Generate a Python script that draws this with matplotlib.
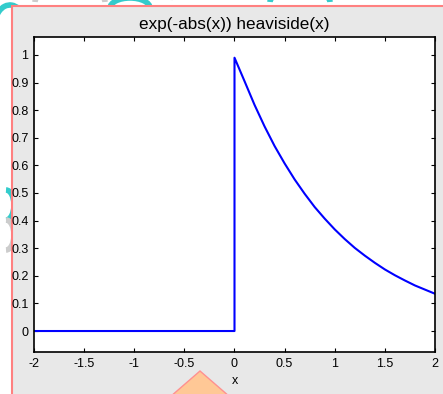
import matplotlib
matplotlib.use("Agg")
import matplotlib.pyplot as plt
from matplotlib.patches import Rectangle, Polygon, Arc

plt.rcParams['font.family'] = ['Liberation Sans', 'DejaVu Sans']

# curve (0 for x < 0, decaying for x > 0)
x_vals = [-2.0, 0.0, 0.0, 0.1, 0.2, 0.3, 0.4, 0.5, 0.6, 0.7, 0.8, 0.9, 1.0,
          1.1, 1.2, 1.3, 1.4, 1.5, 1.6, 1.7, 1.8, 1.9, 2.0]
y_vals = [0.0, 0.0, 0.99, 0.905, 0.819, 0.741, 0.670, 0.607, 0.549, 0.497,
          0.449, 0.407, 0.368, 0.333, 0.301, 0.273, 0.247, 0.223, 0.202,
          0.183, 0.165, 0.150, 0.135]
xticks = [-2, -1.5, -1, -0.5, 0, 0.5, 1, 1.5, 2]
xtick_labels = ['-2', '-1.5', '-1', '-0.5', '0', '0.5', '1', '1.5', '2']
yticks = [0, 0.1, 0.2, 0.3, 0.4, 0.5, 0.6, 0.7, 0.8, 0.9, 1]
ytick_labels = ['0', '0.1', '0.2', '0.3', '0.4', '0.5', '0.6', '0.7', '0.8', '0.9', '1']

W, H = 443, 394
fig = plt.figure(figsize=(W / 100, H / 100), dpi=100, facecolor='white')

# background decoration: swirls, gray panel with pink frame, orange diamond
deco = fig.add_axes([0, 0, 1, 1], zorder=-5)
deco.set_xlim(0, W)
deco.set_ylim(H, 0)
deco.axis('off')
for (cx, cy, w, h, t1, t2, col) in [
        (10, 25, 30, 40, 200, 420, '#33cccc'),
        (70, 2, 70, 30, 180, 360, '#cccccc'),
        (130, 8, 40, 20, 180, 360, '#33cccc'),
        (200, 0, 60, 30, 180, 350, '#cccccc'),
        (300, 2, 60, 24, 180, 360, '#33cccc'),
        (400, 0, 40, 16, 190, 350, '#33cccc'),
        (6, 205, 16, 30, 270, 450, '#33cccc'),
        (6, 235, 16, 30, 270, 450, '#cccccc')]:
    deco.add_patch(Arc((cx, cy), w, h, theta1=t1, theta2=t2, color=col, lw=4))
deco.add_patch(Rectangle((12, 6), W, H, facecolor='#e8e8e8',
                         edgecolor='#ff8080', lw=1.5, zorder=2))
deco.add_patch(Polygon([(200, 371), (245, 410), (200, 450), (155, 410)],
                       closed=True, facecolor='#ffc896', edgecolor='#ff9090',
                       lw=1, zorder=3))

ax = fig.add_axes([34 / W, 1 - 352 / H, (435 - 34) / W, (352 - 37) / H])
ax.set_facecolor('white')
ax.plot(x_vals, y_vals, color='#0000ff', lw=1.5)
ax.set_xlim(-2, 2)
ax.set_ylim(-0.076, 1.065)
ax.set_xticks(xticks)
ax.set_xticklabels(xtick_labels)
ax.set_yticks(yticks)
ax.set_yticklabels(ytick_labels)
ax.tick_params(direction='in', length=3, width=0.8, labelsize=9, pad=4,
               top=True, right=True, colors='black')
for s in ax.spines.values():
    s.set_linewidth(1.2)
ax.set_title('exp(-abs(x)) heaviside(x)', fontsize=12.3, pad=6)
ax.set_xlabel('x', fontsize=9, labelpad=4)

fig.savefig('out.png', dpi=100, facecolor='white')
